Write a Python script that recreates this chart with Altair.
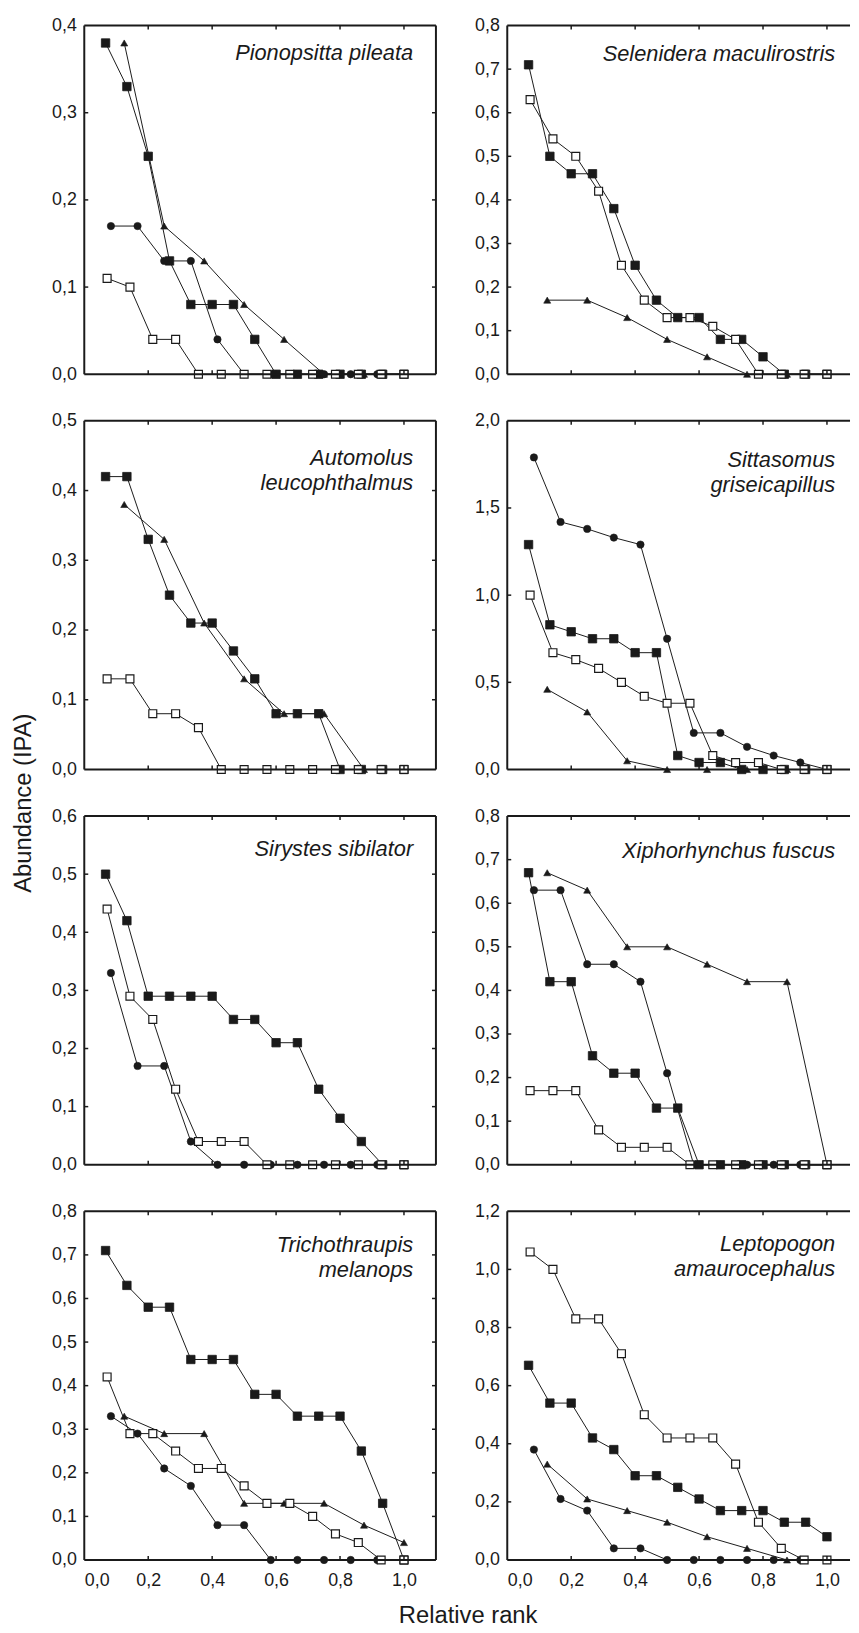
import altair as alt
import pandas as pd

FONT = "Liberation Sans"
INK = "#1a1a1a"

# ---------------- data ----------------
# Four series per panel; x = relative rank (rank / number of ranks)
# filled squares (15 ranks), open squares (14), filled circles (12), filled triangles (8)
NAMES = [
    ["Pionopsitta pileata"],
    ["Selenidera maculirostris"],
    ["Automolus", "leucophthalmus"],
    ["Sittasomus", "griseicapillus"],
    ["Sirystes sibilator"],
    ["Xiphorhynchus fuscus"],
    ["Trichothraupis", "melanops"],
    ["Leptopogon", "amaurocephalus"],
]

Y_MAX = [0.4, 0.8, 0.5, 2.0, 0.6, 0.8, 0.8, 1.2]
Y_TICKS = [
    [0.0, 0.1, 0.2, 0.3, 0.4],
    [0.0, 0.1, 0.2, 0.3, 0.4, 0.5, 0.6, 0.7, 0.8],
    [0.0, 0.1, 0.2, 0.3, 0.4, 0.5],
    [0.0, 0.5, 1.0, 1.5, 2.0],
    [0.0, 0.1, 0.2, 0.3, 0.4, 0.5, 0.6],
    [0.0, 0.1, 0.2, 0.3, 0.4, 0.5, 0.6, 0.7, 0.8],
    [0.0, 0.1, 0.2, 0.3, 0.4, 0.5, 0.6, 0.7, 0.8],
    [0.0, 0.2, 0.4, 0.6, 0.8, 1.0, 1.2],
]
X_TICKS = [0.0, 0.2, 0.4, 0.6, 0.8, 1.0]

FSQ = [
    [0.38, 0.33, 0.25, 0.13, 0.08, 0.08, 0.08, 0.04, 0, 0, 0, 0, 0, 0, 0],
    [0.71, 0.50, 0.46, 0.46, 0.38, 0.25, 0.17, 0.13, 0.13, 0.08, 0.08, 0.04, 0, 0, 0],
    [0.42, 0.42, 0.33, 0.25, 0.21, 0.21, 0.17, 0.13, 0.08, 0.08, 0.08, 0, 0, 0, 0],
    [1.29, 0.83, 0.79, 0.75, 0.75, 0.67, 0.67, 0.08, 0.04, 0.04, 0, 0, 0, 0, 0],
    [0.50, 0.42, 0.29, 0.29, 0.29, 0.29, 0.25, 0.25, 0.21, 0.21, 0.13, 0.08, 0.04, 0, 0],
    [0.67, 0.42, 0.42, 0.25, 0.21, 0.21, 0.13, 0.13, 0, 0, 0, 0, 0, 0, 0],
    [0.71, 0.63, 0.58, 0.58, 0.46, 0.46, 0.46, 0.38, 0.38, 0.33, 0.33, 0.33, 0.25, 0.13, 0],
    [0.67, 0.54, 0.54, 0.42, 0.38, 0.29, 0.29, 0.25, 0.21, 0.17, 0.17, 0.17, 0.13, 0.13, 0.08],
]
OSQ = [
    [0.11, 0.10, 0.04, 0.04, 0, 0, 0, 0, 0, 0, 0, 0, 0, 0],
    [0.63, 0.54, 0.50, 0.42, 0.25, 0.17, 0.13, 0.13, 0.11, 0.08, 0, 0, 0, 0],
    [0.13, 0.13, 0.08, 0.08, 0.06, 0, 0, 0, 0, 0, 0, 0, 0, 0],
    [1.00, 0.67, 0.63, 0.58, 0.50, 0.42, 0.38, 0.38, 0.08, 0.04, 0.04, 0, 0, 0],
    [0.44, 0.29, 0.25, 0.13, 0.04, 0.04, 0.04, 0, 0, 0, 0, 0, 0, 0],
    [0.17, 0.17, 0.17, 0.08, 0.04, 0.04, 0.04, 0, 0, 0, 0, 0, 0, 0],
    [0.42, 0.29, 0.29, 0.25, 0.21, 0.21, 0.17, 0.13, 0.13, 0.10, 0.06, 0.04, 0, 0],
    [1.06, 1.00, 0.83, 0.83, 0.71, 0.50, 0.42, 0.42, 0.42, 0.33, 0.13, 0.04, 0, 0],
]
CIRC = [
    [0.17, 0.17, 0.13, 0.13, 0.04, 0, 0, 0, 0, 0, 0, 0],
    None,
    None,
    [1.79, 1.42, 1.38, 1.33, 1.29, 0.75, 0.21, 0.21, 0.13, 0.08, 0.04, 0],
    [0.33, 0.17, 0.17, 0.04, 0, 0, 0, 0, 0, 0, 0, 0],
    [0.63, 0.63, 0.46, 0.46, 0.42, 0.21, 0, 0, 0, 0, 0, 0],
    [0.33, 0.29, 0.21, 0.17, 0.08, 0.08, 0, 0, 0, 0, 0, 0],
    [0.38, 0.21, 0.17, 0.04, 0.04, 0, 0, 0, 0, 0, 0, 0],
]
TRI = [
    [0.38, 0.17, 0.13, 0.08, 0.04, 0, 0, 0],
    [0.17, 0.17, 0.13, 0.08, 0.04, 0, 0, 0],
    [0.38, 0.33, 0.21, 0.13, 0.08, 0.08, 0, 0],
    [0.46, 0.33, 0.05, 0, 0, 0, 0, 0],
    None,
    [0.67, 0.63, 0.50, 0.50, 0.46, 0.42, 0.42, 0],
    [0.33, 0.29, 0.29, 0.13, 0.13, 0.13, 0.08, 0.04],
    [0.33, 0.21, 0.17, 0.13, 0.08, 0.04, 0, 0],
]

LABEL_Y = [35, 36, 45, 47, 40, 42, 41, 40]

# ---------------- styling ----------------
W_LEFT, W_RIGHT, H = 355, 346, 352
UNIT = W_LEFT / 1.1
COMMA = "replace(format(datum.value, '.1f'), '.', ',')"
TICK = 4
LABEL_SIZE = 18

STYLE = {
    "fsq": dict(shape="square", fill=INK, size=72, strokeWidth=0.8),
    "tri": dict(shape="triangle-up", fill=INK, size=50, strokeWidth=0.6),
    "circ": dict(shape="circle", fill=INK, size=55, strokeWidth=0.6),
    "osq": dict(shape="square", fill="white", size=64, strokeWidth=1.2),
}


def series_df(vals):
    n = len(vals)
    return pd.DataFrame({"rank": [(i + 1) / n for i in range(n)], "value": vals})


def panel(i, width, show_x, draw_right):
    xmax = width / UNIT
    xs = alt.Scale(domain=[0, xmax], nice=False, zero=False)
    ys = alt.Scale(domain=[0, Y_MAX[i]], nice=False, zero=False)
    if show_x:
        xaxis = alt.Axis(values=X_TICKS, labelExpr=COMMA, title=None, grid=False,
                         domain=False, ticks=False, labelPadding=12,
                         labelFont=FONT, labelFontSize=LABEL_SIZE, labelColor=INK)
    else:
        xaxis = None
    yaxis = alt.Axis(values=Y_TICKS[i], labelExpr=COMMA, title=None, grid=False,
                     domain=False, ticks=False, labelPadding=8,
                     labelFont=FONT, labelFontSize=LABEL_SIZE, labelColor=INK)

    def X(f):
        return alt.X(f, type="quantitative", scale=xs, axis=xaxis)

    def Y(f):
        return alt.Y(f, type="quantitative", scale=ys, axis=yaxis)

    series = [("fsq", FSQ[i]), ("tri", TRI[i]), ("circ", CIRC[i]), ("osq", OSQ[i])]
    series = [(k, v) for k, v in series if v is not None]

    layers = []
    for k, v in series:
        layers.append(
            alt.Chart(series_df(v)).mark_line(color=INK, strokeWidth=1)
            .encode(x=X("rank"), y=Y("value"))
        )
    for k, v in series:
        st = STYLE[k]
        layers.append(
            alt.Chart(series_df(v)).mark_point(
                shape=st["shape"], filled=True, fill=st["fill"], stroke=INK,
                strokeWidth=st["strokeWidth"], size=st["size"], opacity=1)
            .encode(x=X("rank"), y=Y("value"))
        )

    one = pd.DataFrame({"k": [0]})
    # frame
    layers.append(alt.Chart(one).mark_rule(color=INK, strokeWidth=2).encode(
        x=alt.value(0), x2=alt.value(width), y=alt.value(0)))
    layers.append(alt.Chart(one).mark_rule(color=INK, strokeWidth=2).encode(
        x=alt.value(0), x2=alt.value(width), y=alt.value(H)))
    layers.append(alt.Chart(one).mark_rule(color=INK, strokeWidth=2).encode(
        x=alt.value(0), y=alt.value(0), y2=alt.value(H)))
    if draw_right:
        layers.append(alt.Chart(one).mark_rule(color=INK, strokeWidth=2).encode(
            x=alt.value(width), y=alt.value(0), y2=alt.value(H)))

    # inward ticks
    xt = pd.DataFrame({"t": X_TICKS[1:]})
    yt = pd.DataFrame({"t": Y_TICKS[i][1:-1]})
    layers.append(alt.Chart(xt).mark_rule(color=INK, strokeWidth=1.5).encode(
        x=X("t"), y=alt.value(H), y2=alt.value(H - TICK)))
    layers.append(alt.Chart(xt).mark_rule(color=INK, strokeWidth=1.5).encode(
        x=X("t"), y=alt.value(0), y2=alt.value(TICK)))
    layers.append(alt.Chart(yt).mark_rule(color=INK, strokeWidth=1.5).encode(
        y=Y("t"), x=alt.value(0), x2=alt.value(TICK)))
    if draw_right:
        layers.append(alt.Chart(yt).mark_rule(color=INK, strokeWidth=1.5).encode(
            y=Y("t"), x=alt.value(width), x2=alt.value(width - TICK)))

    # species name
    name_x = 332 if width == W_LEFT else 331
    layers.append(alt.Chart(one).mark_text(
        text=NAMES[i], align="right", baseline="alphabetic", font=FONT,
        fontStyle="italic", fontSize=22, lineHeight=25, color=INK)
        .encode(x=alt.value(name_x), y=alt.value(LABEL_Y[i])))

    return alt.layer(*layers).properties(width=width, height=H)


panels = []
for r in range(4):
    bottom = r == 3
    panels.append(panel(2 * r, W_LEFT, bottom, True))
    panels.append(panel(2 * r + 1, W_RIGHT, bottom, False))

grid = alt.concat(
    *panels, columns=2, spacing={"row": 47, "column": 72}, bounds="flush",
    title=alt.TitleParams("Abundance (IPA)", orient="left", anchor="middle",
                          font=FONT, fontSize=24, fontWeight="normal",
                          color=INK, offset=16),
)

chart = alt.vconcat(
    grid,
    title=alt.TitleParams("Relative rank", orient="bottom", anchor="middle",
                          font=FONT, fontSize=24, fontWeight="normal",
                          color=INK, offset=15, dx=37),
    padding={"left": 3, "top": 1, "right": 0, "bottom": 0},
    background="white",
).configure_view(stroke=None)

chart.save("out.html", embed_options={"renderer": "svg", "actions": False})
